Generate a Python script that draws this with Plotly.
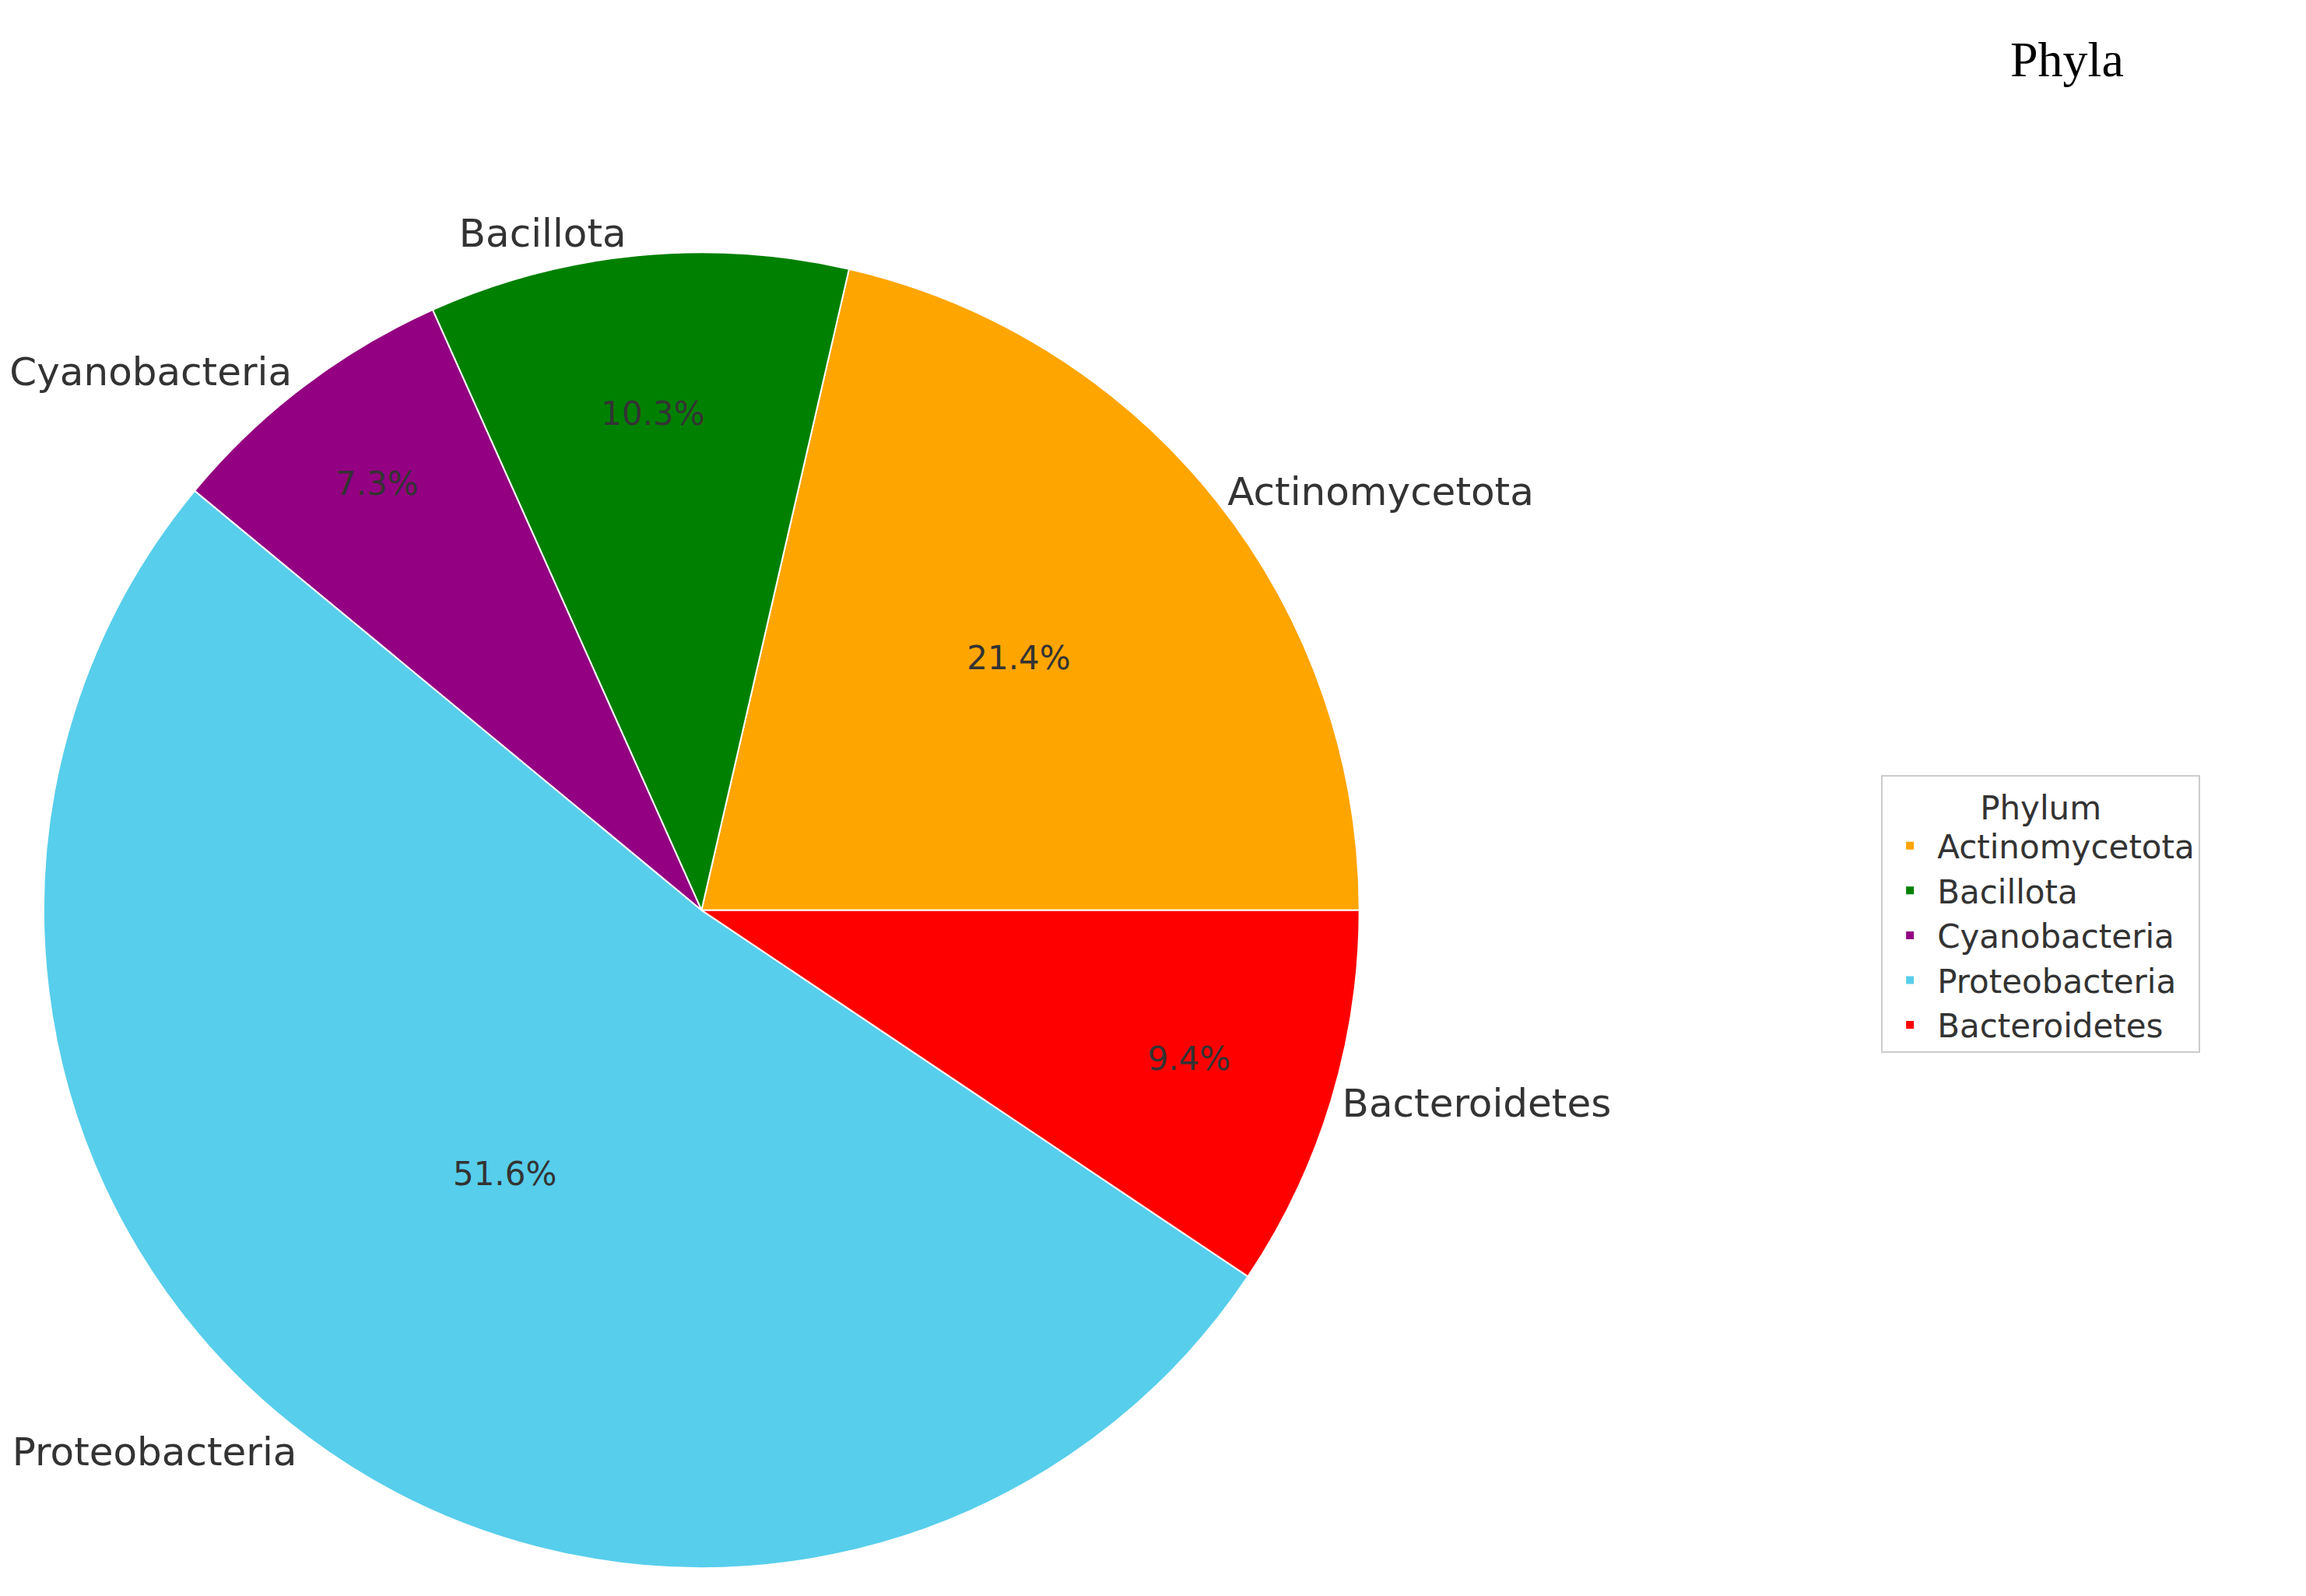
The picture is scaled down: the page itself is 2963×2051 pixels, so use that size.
import plotly.graph_objects as go

phyla = ["Actinomycetota", "Bacillota", "Cyanobacteria", "Proteobacteria", "Bacteroidetes"]
shares = [21.4, 10.3, 7.3, 51.6, 9.4]
colors = ["#FFA500", "#008000", "#930081", "#57CEEB", "#FF0000"]

dom = dict(x=[0.0, 0.58], y=[0.01, 0.855])
common = dict(labels=phyla, values=shares, sort=False, direction="counterclockwise",
              rotation=90 - 3.6 * shares[0], domain=dom, hoverinfo="skip")
fig = go.Figure()
fig.add_trace(go.Pie(
    marker=dict(colors=colors, line=dict(color="white", width=2)),
    texttemplate="%{value:.1f}%", textposition="inside",
    insidetextorientation="horizontal",
    textfont=dict(family="DejaVu Sans", size=42, color="#333333"), **common))
fig.add_trace(go.Pie(
    marker=dict(colors=["rgba(0,0,0,0)"] * 5), textinfo="label", textposition="outside",
    textfont=dict(family="DejaVu Sans", size=50, color="#333333"),
    showlegend=False, **common))
fig.update_layout(
    width=2963, height=2051, paper_bgcolor="white", plot_bgcolor="white",
    margin=dict(l=0, r=0, t=0, b=0),
    legend=dict(title=dict(text="Phylum", side="top center", font=dict(size=42, color="#333333")),
                font=dict(family="DejaVu Sans", size=42, color="#333333"),
                x=0.81, y=0.43, xanchor="left", yanchor="middle",
                bordercolor="#cccccc", borderwidth=2, bgcolor="white", itemwidth=60),
    annotations=[dict(text="Phyla", x=0.892, y=0.985, xref="paper", yref="paper",
                      xanchor="center", yanchor="top", showarrow=False,
                      font=dict(family="Liberation Serif", size=64, color="black"))],
)
fig.write_html("out.html")
